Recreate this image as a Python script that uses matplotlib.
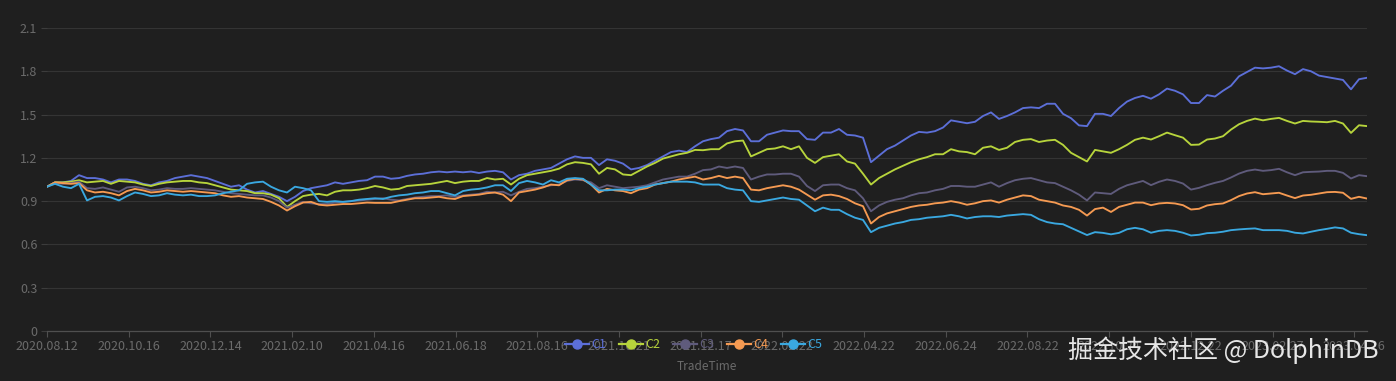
import numpy as np
import matplotlib
matplotlib.use('Agg')
import matplotlib.pyplot as plt
from matplotlib.lines import Line2D

# ---------------- data (values sampled every ~4 trading days) ----------------
series_names = ['C1', 'C2', 'C3', 'C4', 'C5']

c1 = [1.00, 1.03, 1.03, 1.04, 1.08, 1.06, 1.06, 1.05, 1.03, 1.05,
      1.05, 1.04, 1.02, 1.01, 1.03, 1.04, 1.06, 1.07, 1.08, 1.07,
      1.06, 1.04, 1.02, 1.00, 1.01, 0.98, 0.96, 0.97, 0.95, 0.93,
      0.90, 0.93, 0.97, 0.99, 1.00, 1.01, 1.03, 1.02, 1.03, 1.04,
      1.045, 1.07, 1.07, 1.055, 1.06, 1.075, 1.085, 1.09, 1.10, 1.105,
      1.10, 1.105, 1.10, 1.105, 1.095, 1.105, 1.11, 1.10, 1.05, 1.08,
      1.09, 1.11, 1.12, 1.13, 1.16, 1.19, 1.21, 1.20, 1.20, 1.15,
      1.19, 1.18, 1.16, 1.12, 1.13, 1.15, 1.18, 1.21, 1.24, 1.25,
      1.24, 1.28, 1.315, 1.33, 1.34, 1.385, 1.40, 1.39, 1.315, 1.315,
      1.36, 1.375, 1.39, 1.385, 1.385, 1.33, 1.325, 1.375, 1.375, 1.40,
      1.36, 1.355, 1.34, 1.17, 1.215, 1.26, 1.285, 1.32, 1.355, 1.38,
      1.375, 1.385, 1.41, 1.46, 1.45, 1.44, 1.45, 1.49, 1.515, 1.47,
      1.49, 1.515, 1.545, 1.55, 1.545, 1.575, 1.575, 1.505, 1.475, 1.425,
      1.42, 1.505, 1.505, 1.49, 1.545, 1.59, 1.615, 1.63, 1.61, 1.64,
      1.68, 1.665, 1.64, 1.58, 1.58, 1.635, 1.625, 1.665, 1.70, 1.765,
      1.795, 1.825, 1.82, 1.825, 1.835, 1.805, 1.78, 1.815, 1.80, 1.77,
      1.76, 1.75, 1.74, 1.675, 1.745, 1.755]

c2 = [1.00, 1.03, 1.03, 1.035, 1.045, 1.03, 1.035, 1.04, 1.02, 1.04,
      1.035, 1.03, 1.015, 1.005, 1.02, 1.03, 1.035, 1.04, 1.04, 1.03,
      1.025, 1.01, 0.995, 0.98, 0.975, 0.97, 0.955, 0.955, 0.945, 0.92,
      0.86, 0.90, 0.935, 0.945, 0.95, 0.94, 0.965, 0.975, 0.975, 0.98,
      0.99, 1.005, 0.995, 0.98, 0.985, 1.005, 1.01, 1.015, 1.02, 1.03,
      1.04, 1.025, 1.035, 1.04, 1.04, 1.06, 1.05, 1.055, 1.015, 1.055,
      1.08, 1.09, 1.10, 1.11, 1.125, 1.155, 1.17, 1.165, 1.155, 1.09,
      1.13, 1.12, 1.085, 1.08, 1.11, 1.14, 1.165, 1.195, 1.21, 1.225,
      1.235, 1.255, 1.253, 1.26, 1.26, 1.30, 1.315, 1.32, 1.21, 1.235,
      1.26, 1.265, 1.28, 1.26, 1.28, 1.20, 1.165, 1.205, 1.215, 1.225,
      1.175, 1.16, 1.09, 1.015, 1.06, 1.09, 1.12, 1.145, 1.17, 1.19,
      1.205, 1.225, 1.225, 1.26, 1.245, 1.24, 1.225, 1.27, 1.28, 1.255,
      1.27, 1.31, 1.325, 1.33, 1.31, 1.32, 1.325, 1.29, 1.235, 1.205,
      1.175, 1.255, 1.245, 1.235, 1.26, 1.29, 1.325, 1.34, 1.327, 1.35,
      1.375, 1.357, 1.34, 1.29, 1.292, 1.327, 1.334, 1.35, 1.396, 1.433,
      1.456, 1.472, 1.46, 1.47, 1.477, 1.456, 1.438, 1.456, 1.452, 1.45,
      1.447, 1.456, 1.438, 1.373, 1.426, 1.42]

c3 = [1.00, 1.025, 1.02, 1.025, 1.035, 0.99, 0.985, 0.995, 0.98, 0.965,
      0.995, 1.00, 0.99, 0.975, 0.98, 0.99, 0.985, 0.985, 0.99, 0.985,
      0.98, 0.975, 0.965, 0.955, 0.95, 0.945, 0.94, 0.94, 0.925, 0.90,
      0.855, 0.875, 0.895, 0.885, 0.88, 0.88, 0.89, 0.895, 0.90, 0.905,
      0.91, 0.915, 0.92, 0.91, 0.905, 0.915, 0.925, 0.93, 0.935, 0.935,
      0.94, 0.93, 0.94, 0.945, 0.95, 0.965, 0.96, 0.965, 0.94, 0.965,
      0.985, 0.99, 1.00, 1.01, 1.015, 1.04, 1.05, 1.045, 1.03, 0.99,
      1.01, 1.00, 0.99, 0.995, 1.00, 1.01, 1.03, 1.05, 1.06, 1.07,
      1.07, 1.09, 1.115, 1.12, 1.14, 1.13, 1.14, 1.13, 1.05, 1.07,
      1.085, 1.085, 1.09, 1.09, 1.07, 1.005, 0.97, 1.01, 1.015, 1.015,
      0.99, 0.975, 0.92, 0.83, 0.87, 0.895, 0.91, 0.92, 0.94, 0.955,
      0.96, 0.975, 0.985, 1.005, 1.005, 1.00, 1.00, 1.015, 1.03, 1.00,
      1.025, 1.045, 1.055, 1.06, 1.045, 1.03, 1.025, 1.00, 0.975, 0.945,
      0.905, 0.96, 0.955, 0.95, 0.985, 1.01, 1.025, 1.04, 1.011, 1.034,
      1.05, 1.04, 1.022, 0.98, 0.992, 1.011, 1.027, 1.04, 1.064, 1.091,
      1.11, 1.119, 1.11, 1.115, 1.124, 1.10, 1.08, 1.10, 1.103, 1.105,
      1.11, 1.11, 1.096, 1.057, 1.08, 1.073]

c4 = [1.00, 1.03, 1.025, 1.02, 1.025, 0.975, 0.96, 0.965, 0.955, 0.94,
      0.97, 0.985, 0.975, 0.96, 0.965, 0.975, 0.97, 0.965, 0.97, 0.965,
      0.96, 0.955, 0.94, 0.93, 0.935, 0.925, 0.92, 0.915, 0.895, 0.87,
      0.835, 0.865, 0.89, 0.895, 0.875, 0.87, 0.875, 0.88, 0.88, 0.885,
      0.89, 0.888, 0.888, 0.888, 0.90, 0.91, 0.92, 0.92, 0.925, 0.93,
      0.92, 0.915, 0.935, 0.94, 0.945, 0.955, 0.96, 0.945, 0.90, 0.96,
      0.97, 0.98, 0.995, 1.015, 1.01, 1.045, 1.055, 1.05, 1.015, 0.96,
      0.985, 0.975, 0.97, 0.955, 0.98, 0.99, 1.015, 1.025, 1.035, 1.05,
      1.06, 1.07, 1.05, 1.06, 1.075, 1.06, 1.07, 1.06, 0.98, 0.975,
      0.99, 1.00, 1.01, 1.00, 0.98, 0.945, 0.91, 0.94, 0.945, 0.935,
      0.915, 0.885, 0.865, 0.745, 0.79, 0.815, 0.83, 0.845, 0.86, 0.87,
      0.875, 0.885, 0.89, 0.90, 0.89, 0.875, 0.885, 0.90, 0.905, 0.89,
      0.91, 0.925, 0.94, 0.935, 0.91, 0.90, 0.89, 0.87, 0.86, 0.84,
      0.80, 0.845, 0.855, 0.825, 0.86, 0.875, 0.89, 0.89, 0.872, 0.884,
      0.888, 0.884, 0.872, 0.842, 0.847, 0.87, 0.879, 0.884, 0.907, 0.935,
      0.953, 0.962, 0.948, 0.953, 0.958, 0.939, 0.921, 0.939, 0.944, 0.953,
      0.962, 0.964, 0.958, 0.916, 0.93, 0.918]

c5 = [1.00, 1.02, 1.00, 0.99, 1.02, 0.905, 0.93, 0.935, 0.925, 0.905,
      0.935, 0.96, 0.95, 0.935, 0.94, 0.955, 0.945, 0.94, 0.945, 0.935,
      0.935, 0.94, 0.955, 0.965, 0.975, 1.02, 1.03, 1.035, 1.00, 0.975,
      0.96, 1.00, 0.99, 0.975, 0.90, 0.895, 0.90, 0.895, 0.90, 0.91,
      0.915, 0.92, 0.915, 0.93, 0.94, 0.945, 0.955, 0.96, 0.97, 0.97,
      0.955, 0.94, 0.97, 0.98, 0.985, 0.995, 1.01, 1.01, 0.97, 1.025,
      1.04, 1.03, 1.015, 1.045, 1.03, 1.055, 1.06, 1.055, 1.015, 0.975,
      0.975, 0.98, 0.98, 0.975, 0.99, 1.00, 1.015, 1.025, 1.035, 1.035,
      1.035, 1.03, 1.015, 1.015, 1.015, 0.99, 0.98, 0.975, 0.90, 0.895,
      0.905, 0.915, 0.925, 0.915, 0.91, 0.87, 0.83, 0.855, 0.84, 0.84,
      0.81, 0.785, 0.77, 0.685, 0.715, 0.73, 0.745, 0.755, 0.77, 0.775,
      0.785, 0.79, 0.795, 0.805, 0.795, 0.78, 0.79, 0.795, 0.795, 0.79,
      0.80, 0.805, 0.81, 0.805, 0.775, 0.755, 0.745, 0.74, 0.715, 0.69,
      0.665, 0.685, 0.68, 0.67, 0.68, 0.705, 0.715, 0.705, 0.681, 0.694,
      0.699, 0.694, 0.681, 0.662, 0.667, 0.678, 0.681, 0.688, 0.699, 0.704,
      0.708, 0.711, 0.699, 0.699, 0.699, 0.694, 0.681, 0.676, 0.688, 0.699,
      0.708, 0.718, 0.711, 0.681, 0.671, 0.664]

tick_labels = ['2020.08.12', '2020.10.16', '2020.12.14', '2021.02.10', '2021.04.16',
               '2021.06.18', '2021.08.16', '2021.10.21', '2021.12.17', '2022.02.22',
               '2022.04.22', '2022.06.24', '2022.08.22', '2022.10.24', '2022.12.22',
               '2023.02.27', '2023.04.26']
y_ticks = [0, 0.3, 0.6, 0.9, 1.2, 1.5, 1.8, 2.1]
y_tick_labels = ['0', '0.3', '0.6', '0.9', '1.2', '1.5', '1.8', '2.1']

# ---------------- style ----------------
colors = ['#5c6fd8', '#b7d43c', '#5f5b7c', '#f59a52', '#3aa8e0']
bg = '#1f1f1f'
label_col = '#6b6b6b'
font = ['Noto Sans CJK SC', 'DejaVu Sans']
plt.rcParams['font.family'] = font

W, H = 1396, 381
fig = plt.figure(figsize=(W / 100, H / 100), dpi=100, facecolor=bg)
ax = fig.add_axes([47 / W, (H - 331) / H, 1320 / W, 303 / H])
ax.set_facecolor(bg)

series = [c1, c2, c3, c4, c5]
for name, vals, col in zip(series_names, series, colors):
    ax.plot(np.arange(len(vals)), vals, color=col, lw=1.35,
            solid_joinstyle='round', solid_capstyle='round', zorder=3)

n = len(c1)
ax.set_xlim(0, n - 1)
ax.set_ylim(0, 2.1)

step = (n - 1) / (1320 / 81.7)
ax.set_xticks(np.arange(len(tick_labels)) * step)
ax.set_xticklabels(tick_labels)
ax.set_yticks(y_ticks)
ax.set_yticklabels(y_tick_labels)

ax.yaxis.grid(True, color='#343434', lw=0.8, zorder=0)
ax.set_axisbelow(True)
for s in ['top', 'right', 'left']:
    ax.spines[s].set_visible(False)
ax.spines['bottom'].set_color('#4f4f4f')
ax.spines['bottom'].set_linewidth(0.9)
ax.tick_params(axis='x', colors='#4f4f4f', labelcolor=label_col, labelsize=9,
               length=4.5, width=0.8, pad=2)
ax.tick_params(axis='y', colors='#3c3c3c', labelcolor=label_col, labelsize=9,
               length=4, width=0.8, pad=3)

# x-axis name
fig.text(707 / W, 1 - 366 / H, 'TradeTime', color=label_col, fontsize=8.5,
         ha='center', va='center')

# legend (drawn on top, like the original)
legend_centers = [577, 631, 685, 739, 793]
ly = 1 - 344 / H
for name, col, cx in zip(series_names, colors, legend_centers):
    fig.add_artist(Line2D([(cx - 12) / W, (cx + 12) / W], [ly, ly],
                          transform=fig.transFigure, color=col, lw=1.6))
    fig.add_artist(Line2D([cx / W], [ly], transform=fig.transFigure,
                          marker='o', markersize=6.5, color=col, lw=0))
    fig.text((cx + 14) / W, ly, name, color=col, fontsize=9,
             ha='left', va='center')

# watermark
fig.text(1068 / W, 1 - 350 / H, '掘金技术社区 @ DolphinDB', color='#e6e6e6',
         fontsize=18, ha='left', va='center', family=font)

fig.savefig('out.png', dpi=100, facecolor=bg)
